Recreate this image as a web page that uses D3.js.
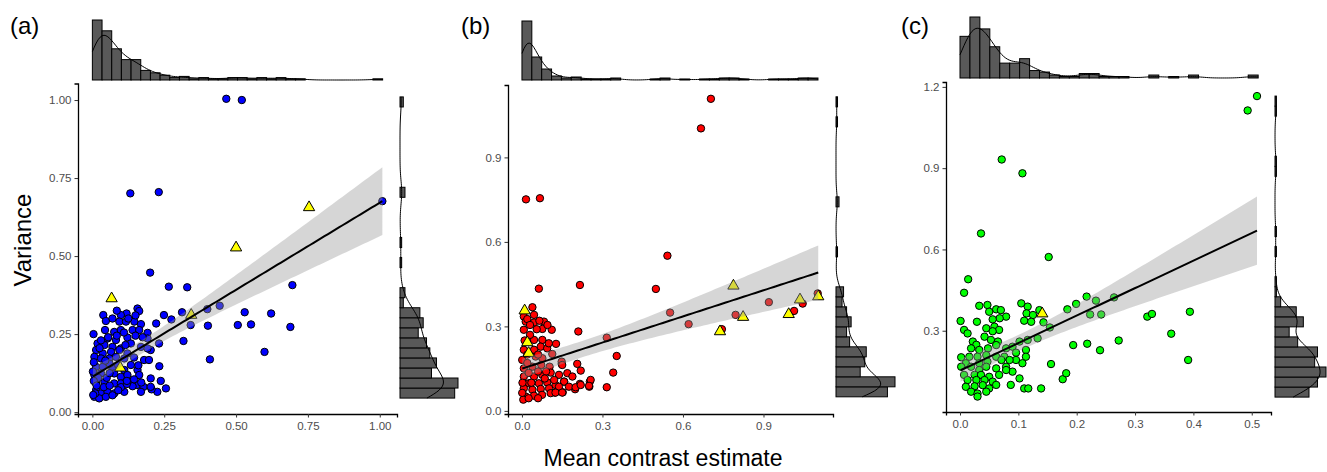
<!DOCTYPE html>
<html>
<head>
<meta charset="utf-8">
<script src="https://cdn.jsdelivr.net/npm/d3@7/dist/d3.min.js"></script>
<style>
  body { margin: 0; background: #fff; }
  text { font-family: "Liberation Sans", Arial, sans-serif; }
</style>
</head>
<body>
<svg id="chart" width="1327" height="472"></svg>
<script>
"use strict";
//scatter points are [mean contrast estimate, variance]
var pointsA = [
  [0.132,0.701],[0.231,0.705],[0.466,1.004],[0.520,1.000],[0.201,0.447],[0.266,0.402],[0.330,0.400],
  [0.312,0.320],[0.275,0.297],[0.249,0.311],[0.222,0.284],[0.317,0.228],[0.342,0.279],[0.400,0.330],
  [0.443,0.341],[0.402,0.277],[0.409,0.169],[0.506,0.279],[0.530,0.320],[0.552,0.281],[0.599,0.193],
  [0.622,0.316],[0.696,0.407],[0.689,0.273],[1.009,0.676],[0.233,0.147],[0.238,0.100],[0.256,0.076],
  [0.226,0.065],[0.203,0.108],[0.206,0.073],
  [0.157,0.332],[0.163,0.324],[0.119,0.316],[0.099,0.311],[0.038,0.311],[0.047,0.292],[0.094,0.290],
  [0.117,0.290],[0.146,0.290],[0.169,0.282],[0.044,0.263],[0.076,0.257],[0.099,0.263],[0.140,0.263],
  [0.163,0.263],[0.192,0.254],[0.004,0.250],[0.053,0.236],[0.082,0.231],[0.122,0.239],[0.192,0.236],
  [0.018,0.220],[0.042,0.215],[0.070,0.209],[0.099,0.204],[0.134,0.220],[0.169,0.209],[0.232,0.220],
  [0.203,0.199],[0.013,0.199],[0.036,0.188],[0.065,0.193],[0.094,0.199],[0.122,0.188],[0.192,0.204],
  [0.007,0.177],[0.030,0.172],[0.059,0.172],[0.082,0.177],[0.111,0.172],[0.145,0.175],[0.180,0.167],
  [0.197,0.167],[0.013,0.145],[0.036,0.145],[0.070,0.140],[0.134,0.151],[0.111,0.135],[0.157,0.135],
  [0.007,0.119],[0.030,0.124],[0.076,0.124],[0.099,0.113],[0.122,0.119],[0.163,0.119],[0.013,0.092],
  [0.042,0.097],[0.076,0.092],[0.099,0.092],[0.134,0.097],[0.155,0.087],[0.178,0.081],[0.203,0.081],
  [0.013,0.071],[0.030,0.060],[0.053,0.065],[0.076,0.060],[0.111,0.065],[0.140,0.083],[0.169,0.065],
  [0.007,0.049],[0.024,0.044],[0.047,0.049],[0.070,0.054],
  [0.002,0.130],[0.005,0.160],[0.020,0.110],[0.050,0.110],[0.090,0.150],[0.060,0.155],[0.030,0.230],
  [0.010,0.060],[0.040,0.080],[0.060,0.085],[0.100,0.080],[0.120,0.090],[0.055,0.240],[0.085,0.245],
  [0.110,0.255],[0.025,0.205],[0.005,0.100],[0.015,0.085],[0.003,0.055],[0.120,0.100],[0.145,0.105],
  [0.170,0.095],[0.090,0.070],[0.060,0.125],[0.045,0.165],[0.160,0.150],[0.115,0.215],[0.150,0.245],
  [0.175,0.240],[0.085,0.325],[0.070,0.300],[0.150,0.310],[0.125,0.300]
];
var trianglesA = [[0.067,0.364],[0.097,0.142],[0.344,0.311],[0.500,0.527],[0.754,0.656]];

var pointsB = [
  [0.015,0.751],[0.067,0.755],[0.063,0.434],[0.216,0.447],[0.210,0.282],[0.127,0.238],[0.316,0.260],
  [0.353,0.195],[0.340,0.136],[0.316,0.084],[0.499,0.433],[0.542,0.551],[0.552,0.349],[0.621,0.308],
  [0.745,0.290],[0.796,0.341],[0.920,0.386],[1.014,0.355],[1.046,0.381],[1.102,0.417],[0.253,0.104],
  [0.251,0.086],[0.216,0.096],[0.198,0.077],[0.206,0.167],[0.219,0.143],[0.157,0.104],[0.148,0.167],
  [0.123,0.065],[0.152,0.066],[0.704,1.108],[0.667,1.003],
  [0.039,0.368],[0.007,0.335],[0.045,0.341],[0.014,0.317],[0.045,0.314],[0.020,0.326],[0.007,0.288],
  [0.082,0.317],[0.076,0.291],[0.111,0.288],[0.095,0.305],[0.045,0.252],[0.076,0.252],[0.070,0.228],
  [0.007,0.217],[0.045,0.217],[0.094,0.222],[0.051,0.193],[0.001,0.181],[0.076,0.187],[0.113,0.202],
  [0.148,0.175],[0.150,0.163],[0.072,0.163],[0.039,0.157],[0.007,0.151],[0.103,0.157],[0.007,0.122],
  [0.045,0.122],[0.076,0.128],[0.107,0.136],[0.138,0.128],[0.169,0.134],[0.188,0.122],[0.026,0.098],
  [0.063,0.098],[0.094,0.101],[0.125,0.092],[0.157,0.104],[0.175,0.086],[0.256,0.110],[0.007,0.080],
  [0.039,0.075],[0.070,0.078],[0.101,0.080],[0.138,0.086],[0.200,0.084],[0.219,0.092],[0.250,0.089],
  [0.014,0.051],[0.045,0.054],[0.075,0.057],[0.107,0.063],[0.125,0.065],[0.150,0.065],[0.005,0.040],
  [0.025,0.045],[0.060,0.045],[0.001,0.064],[0.020,0.200],[0.030,0.270],[0.010,0.250],[0.055,0.290],
  [0.025,0.135],[0.060,0.140],[0.090,0.140],[0.120,0.110],[0.035,0.100],[0.002,0.100],[0.085,0.115],
  [0.020,0.170],[0.060,0.200],[0.100,0.240],[0.030,0.305],[0.065,0.320]
];
var trianglesB = [
  [0.010,0.356],[0.020,0.243],[0.025,0.205],[0.738,0.282],[0.788,0.444],[0.824,0.333],
  [0.994,0.343],[1.036,0.395],[1.104,0.406]
];

var pointsC = [
  [0.0715,0.932],[0.107,0.881],[0.036,0.659],[0.152,0.572],[0.014,0.490],[0.007,0.440],[0.033,0.392],
  [0.184,0.379],[0.199,0.399],[0.217,0.426],[0.233,0.411],[0.264,0.423],[0.223,0.360],[0.242,0.360],
  [0.321,0.352],[0.329,0.362],[0.394,0.370],[0.362,0.289],[0.391,0.192],[0.272,0.264],[0.194,0.247],
  [0.218,0.252],[0.240,0.228],[0.493,1.113],[0.509,1.166],[0.154,0.312],[0.143,0.331],
  [0.047,0.395],[0.050,0.370],[0.062,0.379],[0.070,0.376],[0.079,0.352],[0.068,0.346],[0.056,0.342],
  [0.105,0.401],[0.116,0.389],[0.136,0.376],[0.114,0.364],[0.125,0.358],[0.110,0.337],[0.122,0.333],
  [0.001,0.336],[0.007,0.303],[0.013,0.290],[0.029,0.333],[0.045,0.309],[0.059,0.315],[0.067,0.303],
  [0.042,0.278],[0.056,0.298],[0.053,0.266],[0.065,0.260],[0.022,0.260],[0.028,0.248],[0.019,0.235],
  [0.033,0.229],[0.048,0.235],[0.062,0.247],[0.079,0.235],[0.090,0.241],[0.102,0.260],[0.116,0.266],
  [0.113,0.229],[0.133,0.272],[0.096,0.219],[0.076,0.204],[0.062,0.204],[0.045,0.210],[0.030,0.204],
  [0.016,0.204],[0.002,0.202],[0.096,0.192],[0.113,0.204],[0.107,0.180],[0.085,0.192],[0.071,0.192],
  [0.047,0.186],[0.033,0.180],[0.010,0.180],[0.002,0.167],[0.019,0.167],[0.033,0.155],[0.045,0.167],
  [0.062,0.161],[0.079,0.167],[0.067,0.137],[0.007,0.137],[0.025,0.137],[0.036,0.137],[0.050,0.130],
  [0.090,0.149],[0.079,0.155],[0.013,0.118],[0.028,0.118],[0.042,0.118],[0.056,0.112],[0.102,0.124],
  [0.010,0.093],[0.025,0.095],[0.039,0.099],[0.050,0.087],[0.062,0.100],[0.087,0.100],[0.019,0.075],
  [0.030,0.068],[0.045,0.075],[0.030,0.057],[0.110,0.087],[0.117,0.087],[0.139,0.087],[0.156,0.177],
  [0.176,0.121],[0.182,0.143]
];
var trianglesC = [[0.141,0.363]];

var xTicksA = [0, 0.25, 0.5, 0.75, 1];
var yTicksA = [0, 0.25, 0.5, 0.75, 1];
var xTicksB = [0, 0.3, 0.6, 0.9];
var yTicksB = [0, 0.3, 0.6, 0.9];
var xTicksC = [0, 0.1, 0.2, 0.3, 0.4, 0.5];
var yTicksC = [0.3, 0.6, 0.9, 1.2];

//fitted line [intercept, slope] as drawn in the figure
var fitA = [0.113, 0.558];
var fitB = [0.150, 0.309];
var fitC = [0.153, 1.014];

//marginal histogram counts, 30 bins; side ones go bottom to top
var topHistA = [50,41,26,17,17,8,6,4,2,3,1,2,1,1,2,2,1,2,1,2,1,1,0,0,0,0,0,0,0,1];
var sideHistA = [33,35,19,22,18,16,11,14,12,2,3,0,0,1,0,1,0,0,0,0,3,0,0,0,0,0,0,0,0,2];
var topHistB = [59,23,11,4,2,3,1,1,1,2,0,0,0,1,2,0,1,0,1,1,2,2,1,0,0,1,1,1,2,2];
var sideHistB = [34,39,16,19,20,9,7,10,7,4,5,0,0,0,1,0,0,0,0,2,0,0,0,0,0,0,0,1,0,1];
var topHistC = [28,41,33,21,10,10,13,5,4,2,1,1,3,3,1,1,1,0,0,2,0,1,0,2,0,0,0,0,0,2];
var sideHistC = [24,30,36,28,30,16,10,20,15,4,1,1,0,0,1,0,1,0,0,0,0,0,1,1,0,0,0,0,1,1];

var topRangeA = [0, 1.01], sideRangeA = [0.045, 1.01];
var topRangeB = [0, 1.103], sideRangeB = [0.05, 1.115];
var topRangeC = [0, 0.511], sideRangeC = [0.055, 1.166];

var panels = [
  { label: "(a)", labelX: 10, pts: pointsA, tri: trianglesA, fill: "#0000ff", fit: fitA,
    xDom: [-0.05, 1.06], yDom: [-0.006, 1.053], left: 78, right: 397, top: 83.5, bottom: 414,
    xTicks: xTicksA, yTicks: yTicksA, fmt: ".2f",
    topHist: topHistA, topRange: topRangeA, topBase: 80, topMax: 60,
    sideHist: sideHistA, sideRange: sideRangeA, sideLeft: 400, sideMax: 58 },
  { label: "(b)", labelX: 461, pts: pointsB, tri: trianglesB, fill: "#ff0000", fit: fitB,
    xDom: [-0.052, 1.159], yDom: [-0.011, 1.157], left: 508, right: 833, top: 85, bottom: 414,
    xTicks: xTicksB, yTicks: yTicksB, fmt: ".1f",
    topHist: topHistB, topRange: topRangeB, topBase: 80, topMax: 59,
    sideHist: sideHistB, sideRange: sideRangeB, sideLeft: 836, sideMax: 59 },
  { label: "(c)", labelX: 901, pts: pointsC, tri: trianglesC, fill: "#00ff00", fit: fitC,
    xDom: [-0.024, 0.533], yDom: [0, 1.218], left: 946, right: 1271, top: 82, bottom: 412,
    xTicks: xTicksC, yTicks: yTicksC, fmt: ".1f",
    topHist: topHistC, topRange: topRangeC, topBase: 78, topMax: 61,
    sideHist: sideHistC, sideRange: sideRangeC, sideLeft: 1275, sideMax: 51 }
];

var svg = d3.select("#chart");

//R style default bandwidth
function bwNrd0(v) {
  var sorted = v.slice().sort(d3.ascending);
  var q = d3.quantile(sorted, 0.75) - d3.quantile(sorted, 0.25);
  return 0.9 * Math.min(d3.deviation(v), q / 1.34) * Math.pow(v.length, -0.2);
}

//density of the binned values (bin centres repeated by count)
function kdeFromHist(counts, lo, hi) {
  var w = (hi - lo) / counts.length, v = [];
  counts.forEach(function(c, i) {
    for (var k = 0; k < c; k++) v.push(lo + (i + 0.5) * w);
  });
  var bw = bwNrd0(v), out = [];
  for (var i = 0; i <= 150; i++) {
    var x = lo + (hi - lo) * i / 150, s = 0;
    v.forEach(function(d) {
      var u = (x - d) / bw;
      s += Math.exp(-0.5 * u * u);
    });
    out.push([x, s / (v.length * bw * Math.sqrt(2 * Math.PI))]);
  }
  return out;
}

function fitStats(all) {
  var n = all.length;
  var mx = d3.mean(all, function(d) { return d[0]; });
  var my = d3.mean(all, function(d) { return d[1]; });
  var sxx = 0, sxy = 0;
  all.forEach(function(d) {
    sxx += (d[0] - mx) * (d[0] - mx);
    sxy += (d[0] - mx) * (d[1] - my);
  });
  var b = sxy / sxx, a = my - b * mx, sse = 0;
  all.forEach(function(d) {
    var r = d[1] - a - b * d[0];
    sse += r * r;
  });
  return { s: Math.sqrt(sse / (n - 2)), n: n, mx: mx, sxx: sxx };
}

function drawPanel(p) {
  var g = svg.append("g");
  var x = d3.scaleLinear().domain(p.xDom).range([p.left, p.right]);
  var y = d3.scaleLinear().domain(p.yDom).range([p.bottom, p.top]);
  var all = p.pts.concat(p.tri);

  //axes
  var xa = g.append("g")
    .attr("transform", "translate(0," + p.bottom + ")")
    .call(d3.axisBottom(x).tickValues(p.xTicks).tickFormat(d3.format(p.fmt))
      .tickSizeOuter(0).tickSize(3.5).tickPadding(4));
  var ya = g.append("g")
    .attr("transform", "translate(" + p.left + ",0)")
    .call(d3.axisLeft(y).tickValues(p.yTicks).tickFormat(d3.format(p.fmt))
      .tickSizeOuter(0).tickSize(3.5).tickPadding(3));
  [xa, ya].forEach(function(a) {
    a.select(".domain").attr("stroke", "#000").attr("stroke-width", 1.3);
    a.selectAll(".tick line").attr("stroke", "#333");
    a.selectAll(".tick text").attr("fill", "#4d4d4d")
      .style("font-size", "11.5px").style("font-family", "'Liberation Sans', Arial, sans-serif");
  });

  //points
  g.append("g").selectAll("circle").data(p.pts).enter().append("circle")
    .attr("cx", function(d) { return x(d[0]); })
    .attr("cy", function(d) { return y(d[1]); })
    .attr("r", 3.7)
    .attr("fill", p.fill)
    .attr("stroke", "#000")
    .attr("stroke-width", 1);
  g.append("g").selectAll("path").data(p.tri).enter().append("path")
    .attr("d", d3.symbol(d3.symbolTriangle, 55))
    .attr("transform", function(d) { return "translate(" + x(d[0]) + "," + y(d[1]) + ")"; })
    .attr("fill", "#ffff00")
    .attr("stroke", "#000")
    .attr("stroke-width", 1);

  //linear fit with 95% band
  var f = fitStats(all);
  var x0 = d3.min(all, function(d) { return d[0]; }), x1 = d3.max(all, function(d) { return d[0]; });
  var band = d3.range(0, 81).map(function(i) {
    var xv = x0 + (x1 - x0) * i / 80;
    var yh = p.fit[0] + p.fit[1] * xv;
    var se = f.s * Math.sqrt(1 / f.n + (xv - f.mx) * (xv - f.mx) / f.sxx);
    return { x: xv, lo: yh - 1.97 * se, hi: yh + 1.97 * se, y: yh };
  });
  g.append("path").datum(band)
    .attr("d", d3.area()
      .x(function(d) { return x(d.x); })
      .y0(function(d) { return y(d.lo); })
      .y1(function(d) { return y(d.hi); }))
    .attr("fill", "#999")
    .attr("fill-opacity", 0.4);
  g.append("path").datum(band)
    .attr("d", d3.line().x(function(d) { return x(d.x); }).y(function(d) { return y(d.y); }))
    .attr("fill", "none")
    .attr("stroke", "#000")
    .attr("stroke-width", 2);

  //top marginal: histogram plus density
  var tw = (p.topRange[1] - p.topRange[0]) / p.topHist.length;
  var tn = d3.sum(p.topHist);
  var tDens = p.topHist.map(function(c) { return c / (tn * tw); });
  var tK = kdeFromHist(p.topHist, p.topRange[0], p.topRange[1]);
  var th = d3.scaleLinear()
    .domain([0, Math.max(d3.max(tDens), d3.max(tK, function(d) { return d[1]; }))])
    .range([p.topBase, p.topBase - p.topMax]);
  g.append("g").selectAll("rect").data(tDens).enter().append("rect")
    .attr("x", function(d, i) { return x(p.topRange[0] + i * tw); })
    .attr("width", x(p.topRange[0] + tw) - x(p.topRange[0]))
    .attr("y", function(d) { return th(d); })
    .attr("height", function(d) { return p.topBase - th(d); })
    .attr("fill", "#595959")
    .attr("stroke", "#000")
    .attr("stroke-width", 1);
  g.append("path").datum(tK)
    .attr("d", d3.line().x(function(d) { return x(d[0]); }).y(function(d) { return th(d[1]); }))
    .attr("fill", "none")
    .attr("stroke", "#000")
    .attr("stroke-width", 1);

  //side marginal
  var sw = (p.sideRange[1] - p.sideRange[0]) / p.sideHist.length;
  var sn = d3.sum(p.sideHist);
  var sDens = p.sideHist.map(function(c) { return c / (sn * sw); });
  var sK = kdeFromHist(p.sideHist, p.sideRange[0], p.sideRange[1]);
  var sh = d3.scaleLinear()
    .domain([0, Math.max(d3.max(sDens), d3.max(sK, function(d) { return d[1]; }))])
    .range([p.sideLeft, p.sideLeft + p.sideMax]);
  g.append("g").selectAll("rect").data(sDens).enter().append("rect")
    .attr("x", p.sideLeft)
    .attr("y", function(d, i) { return y(p.sideRange[0] + (i + 1) * sw); })
    .attr("height", y(p.sideRange[0]) - y(p.sideRange[0] + sw))
    .attr("width", function(d) { return sh(d) - p.sideLeft; })
    .attr("fill", "#595959")
    .attr("stroke", "#000")
    .attr("stroke-width", 1);
  g.append("path").datum(sK)
    .attr("d", d3.line().x(function(d) { return sh(d[1]); }).y(function(d) { return y(d[0]); }))
    .attr("fill", "none")
    .attr("stroke", "#000")
    .attr("stroke-width", 1);

  g.append("text")
    .attr("x", p.labelX)
    .attr("y", 34)
    .style("font-size", "24px")
    .attr("fill", "#000")
    .text(p.label);
}

panels.forEach(drawPanel);

svg.append("text")
  .attr("transform", "translate(31,240) rotate(-90)")
  .attr("text-anchor", "middle")
  .style("font-size", "24px")
  .text("Variance");

svg.append("text")
  .attr("x", 663)
  .attr("y", 466)
  .attr("text-anchor", "middle")
  .style("font-size", "23px")
  .text("Mean contrast estimate");
</script>
</body>
</html>
